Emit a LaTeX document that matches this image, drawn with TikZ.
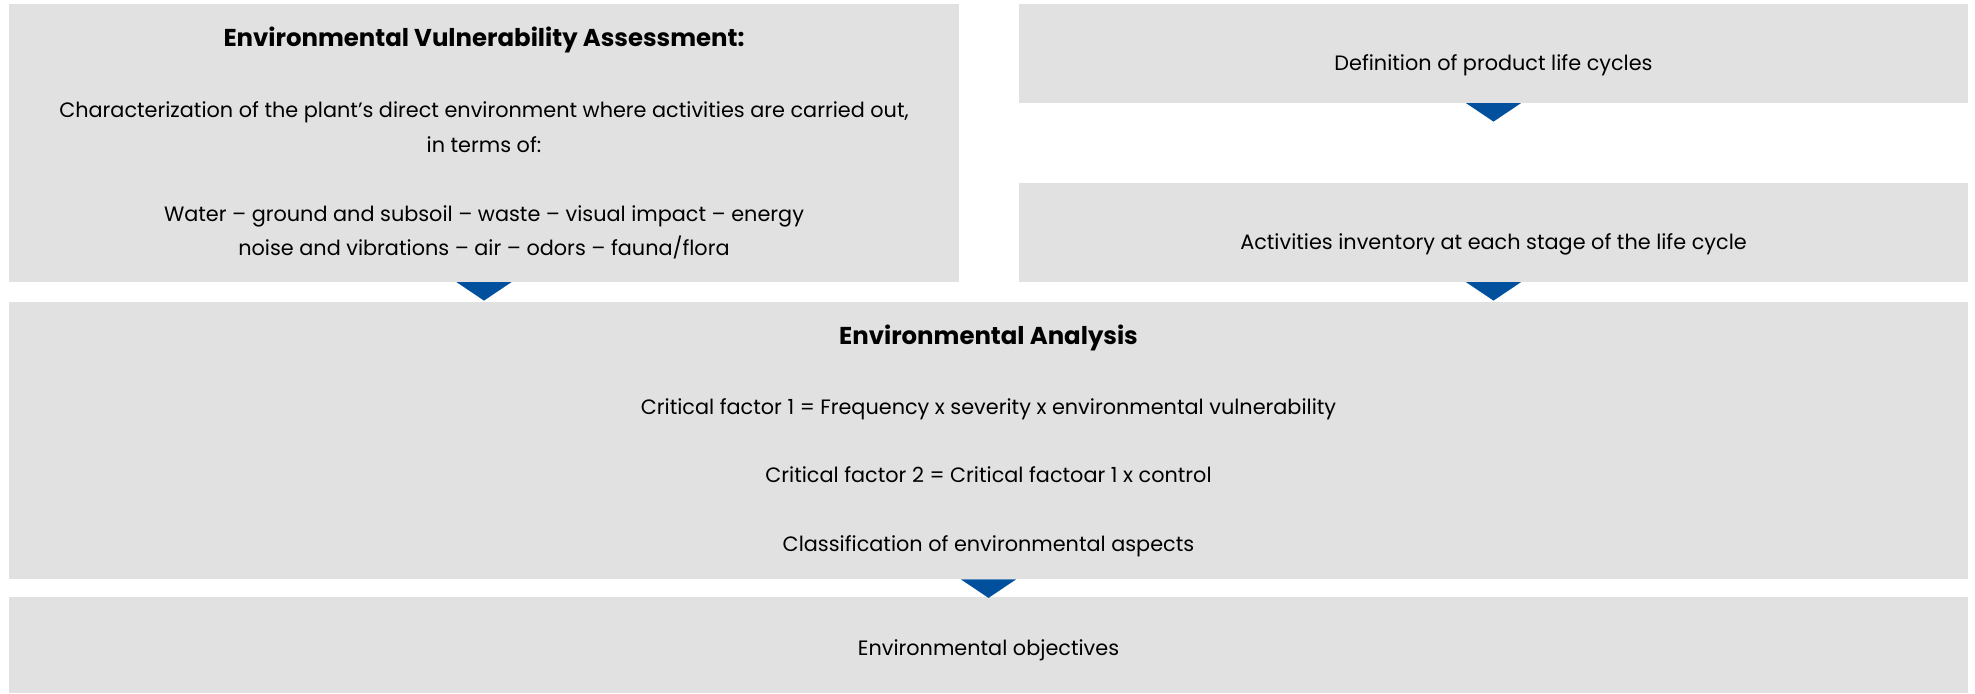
\documentclass[tikz,border=0pt]{standalone}
\usepackage{fontspec}
\setmainfont{Poppins}
\usetikzlibrary{calc}
\definecolor{boxgray}{RGB}{225,225,225}
\definecolor{arrowblue}{RGB}{0,80,158}
\begin{document}
\begin{tikzpicture}[x=0.5pt,y=-0.5pt,
  box/.style={fill=boxgray, draw=none, inner sep=0pt, align=center,
    font=\fontsize{10.4}{17.25}\selectfont, text=black},
  txt/.style={inner sep=0pt, align=center, font=\fontsize{10.4}{17.25}\selectfont, text=black},
  tri/.style={fill=arrowblue, draw=none}]
\useasboundingbox (0,0) rectangle (1975,693);
\node[box, minimum width=475pt, minimum height=138.85pt] (A) at (484,142.85)
  {{\bfseries\fontsize{12.2}{17.25}\selectfont Environmental Vulnerability Assessment:}\\[18.5pt]
   Characterization of the plant’s direct environment where activities are carried out,\\
   in terms of:\\[17.25pt]
   Water – ground and subsoil – waste – visual impact – energy\\
   noise and vibrations – air – odors – fauna/flora};
\node[box, minimum width=474.5pt, minimum height=49.35pt] (B) at (1493.5,53.35) {};
\node[txt] (Bt) at ($(B.center)+(0,-5.8pt)$) {Definition of product life cycles};
\node[box, minimum width=474.5pt, minimum height=49.35pt] (C) at (1493.5,232.35) {};
\node[txt] (Ct) at ($(C.center)+(0,-5.8pt)$) {Activities inventory at each stage of the life cycle};
\node[box, minimum width=979.5pt, minimum height=138.5pt] (D) at (988.5,440.5)
  {{\bfseries\fontsize{12.2}{17.25}\selectfont Environmental Analysis}\\[18pt]
   Critical factor 1 = Frequency x severity x environmental vulnerability\\[16.5pt]
   Critical factor 2 = Critical factoar 1 x control\\[17.25pt]
   Classification of environmental aspects};
\node[box, minimum width=979.5pt, minimum height=48pt] (E) at (988.5,645) {};
\node[txt] (Et) at ($(E.center)+(0,-2.6pt)$) {Environmental objectives};
\foreach \n in {A,B,C,D}{
  \fill[tri] ($(\n.south)+(-13.75pt,0)$) -- ($(\n.south)+(13.75pt,0)$)
    -- ($(\n.south)+(0,-9.25pt)$) -- cycle;
}
\end{tikzpicture}
\end{document}
